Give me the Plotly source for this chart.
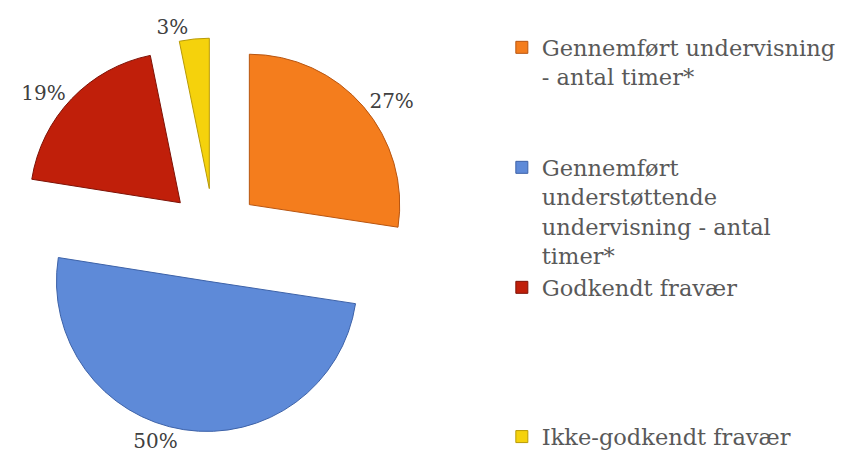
import plotly.graph_objects as go

# Fordeling af timer
labels = [
    "Gennemført undervisning<br>- antal timer*",
    "Gennemført<br>understøttende<br>undervisning - antal<br>timer*",
    "Godkendt fravær",
    "Ikke-godkendt fravær",
]
values = [27.4, 50.1, 19.3, 3.2]
colors = ["#F47D1D", "#5E8AD8", "#C01F0A", "#F5D20C"]
edge_colors = ["#B85510", "#3D62A8", "#7E1206", "#B89A05"]

# blank lines after each legend entry to spread the items vertically
legend_padding = [2, 0, 4, 0]
legend_names = [lab + "<br> " * n for lab, n in zip(labels, legend_padding)]

font_family = "DejaVu Serif"

fig = go.Figure(
    go.Pie(
        labels=legend_names,
        values=values,
        sort=False,
        direction="clockwise",
        rotation=0,
        pull=[0.31] * len(values),
        marker=dict(colors=colors, line=dict(color=edge_colors, width=1)),
        texttemplate="%{percent:.0%}",
        textposition="outside",
        textfont=dict(family=font_family, size=20, color="#404040"),
        domain=dict(x=[17 / 842, 411 / 842], y=[36 / 468, 1 - 38 / 468]),
        hoverinfo="label+percent",
    )
)

fig.update_layout(
    width=842,
    height=468,
    margin=dict(l=0, r=0, t=0, b=0, autoexpand=False),
    paper_bgcolor="white",
    plot_bgcolor="white",
    font=dict(family=font_family, color="#595959"),
    legend=dict(
        x=0.596,
        y=0.944,
        xanchor="left",
        yanchor="top",
        valign="top",
        font=dict(family=font_family, size=22.5, color="#595959"),
        itemwidth=30,
    ),
)

fig.write_html("out.html")
